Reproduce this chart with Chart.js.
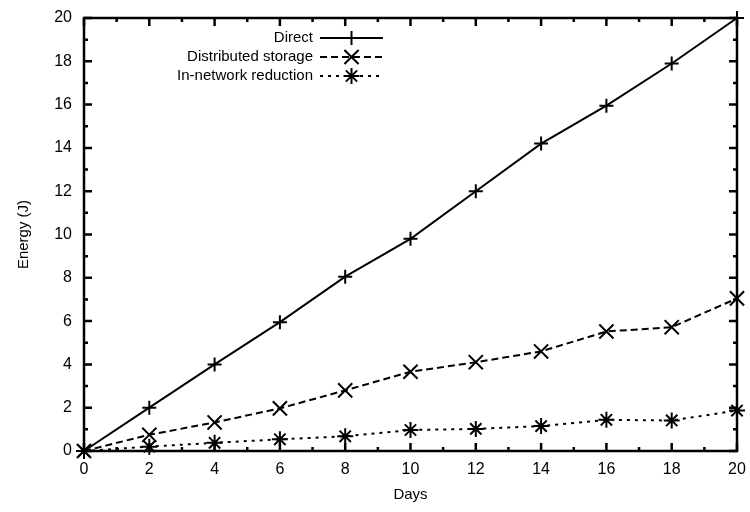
<!DOCTYPE html>
<html>
<head>
<meta charset="utf-8">
<script src="https://cdn.jsdelivr.net/npm/chart.js@4.4.1/dist/chart.umd.min.js"></script>
<style>
  html, body { margin: 0; padding: 0; background: #fff; }
  #wrap { width: 750px; height: 512px; }
</style>
</head>
<body>
<div id="wrap"><canvas id="energyChart" width="750" height="512"></canvas></div>
<script>
// Data
const days = [0, 2, 4, 6, 8, 10, 12, 14, 16, 18, 20];
const direct = [0, 2.0, 4.0, 5.95, 8.05, 9.8, 12.0, 14.2, 15.95, 17.9, 20.0];
const distributedStorage = [0, 0.75, 1.32, 1.97, 2.8, 3.66, 4.1, 4.6, 5.52, 5.72, 7.05];
const inNetworkReduction = [0, 0.2, 0.38, 0.54, 0.68, 0.97, 1.02, 1.15, 1.44, 1.41, 1.87];
const seriesLabels = ["Direct", "Distributed storage", "In-network reduction"];

const FONT = "'Liberation Sans', Arial, Helvetica, sans-serif";

// gnuplot-like frame with inward ticks on all four sides
const framePlugin = {
  id: "frame",
  afterDatasetsDraw(chart) {
    const { ctx, chartArea: a, scales } = chart;
    ctx.save();
    ctx.strokeStyle = "#000";
    ctx.lineWidth = 2.5;
    ctx.strokeRect(a.left, a.top, a.right - a.left, a.bottom - a.top);
    ctx.beginPath();
    for (let v = 0; v <= 20; v++) {
      const len = v % 2 === 0 ? 8 : 4;
      const x = scales.x.getPixelForValue(v);
      ctx.moveTo(x, a.bottom); ctx.lineTo(x, a.bottom - len);
      ctx.moveTo(x, a.top); ctx.lineTo(x, a.top + len);
      const y = scales.y.getPixelForValue(v);
      ctx.moveTo(a.left, y); ctx.lineTo(a.left + len, y);
      ctx.moveTo(a.right, y); ctx.lineTo(a.right - len, y);
    }
    ctx.stroke();
    ctx.restore();
  },
};

// legend inside the plot, text right-aligned with a sample to the right
const keyPlugin = {
  id: "key",
  afterDraw(chart) {
    const { ctx, chartArea: a } = chart;
    const textRight = a.left + 229;
    const x0 = a.left + 236, x1 = a.left + 299;
    ctx.save();
    ctx.font = "15px " + FONT;
    ctx.textAlign = "right";
    ctx.textBaseline = "middle";
    chart.data.datasets.forEach((ds, i) => {
      const y = a.top + 20 + i * 19;
      ctx.fillStyle = "#000";
      ctx.fillText(ds.label, textRight, y);
      ctx.strokeStyle = "#000";
      ctx.lineWidth = 2;
      ctx.setLineDash(ds.borderDash || []);
      ctx.beginPath();
      ctx.moveTo(x0, y); ctx.lineTo(x1, y);
      ctx.stroke();
      ctx.setLineDash([]);
      Chart.helpers.drawPoint(ctx, {
        pointStyle: ds.pointStyle, radius: ds.pointRadius, borderWidth: 2,
      }, (x0 + x1) / 2, y);
    });
    ctx.restore();
  },
};

function makeSet(label, values, style, size, dash) {
  return {
    label: label,
    data: values,
    borderColor: "#000",
    backgroundColor: "#000",
    borderWidth: 2,
    borderDash: dash,
    pointStyle: style,
    pointRadius: size,
    pointBorderWidth: 2,
    pointBorderColor: "#000",
    tension: 0,
    fill: false,
    clip: false,
  };
}

new Chart(document.getElementById("energyChart"), {
  type: "line",
  data: {
    labels: days,
    datasets: [
      makeSet(seriesLabels[0], direct, "cross", 7, []),
      makeSet(seriesLabels[1], distributedStorage, "crossRot", 10, [7, 4]),
      makeSet(seriesLabels[2], inNetworkReduction, "star", 8, [3, 5]),
    ],
  },
  options: {
    responsive: false,
    animation: false,
    layout: { padding: { top: 18, right: 13, left: 0, bottom: 0 } },
    plugins: {
      legend: { display: false },
      tooltip: { enabled: false },
    },
    scales: {
      x: {
        type: "linear",
        min: 0,
        max: 20,
        ticks: { stepSize: 2, color: "#000", font: { family: FONT, size: 16 }, padding: 9, maxRotation: 0 },
        grid: { display: false, drawTicks: false },
        border: { display: false },
        title: { display: true, text: "Days", color: "#000", font: { family: FONT, size: 15 }, padding: { top: 4, bottom: 8 } },
        afterFit(scale) {
          scale.height = 61;
          scale.paddingLeft = 0;
          scale.paddingRight = 0;
        },
      },
      y: {
        min: 0,
        max: 20,
        ticks: { stepSize: 2, color: "#000", font: { family: FONT, size: 16 }, padding: 12 },
        grid: { display: false, drawTicks: false },
        border: { display: false },
        title: { display: true, text: "Energy (J)", color: "#000", font: { family: FONT, size: 15 }, padding: { top: 15, bottom: 0 } },
        afterFit(scale) {
          scale.width = 84;
          scale.paddingTop = 0;
          scale.paddingBottom = 0;
        },
      },
    },
  },
  plugins: [framePlugin, keyPlugin],
});
</script>
</body>
</html>
